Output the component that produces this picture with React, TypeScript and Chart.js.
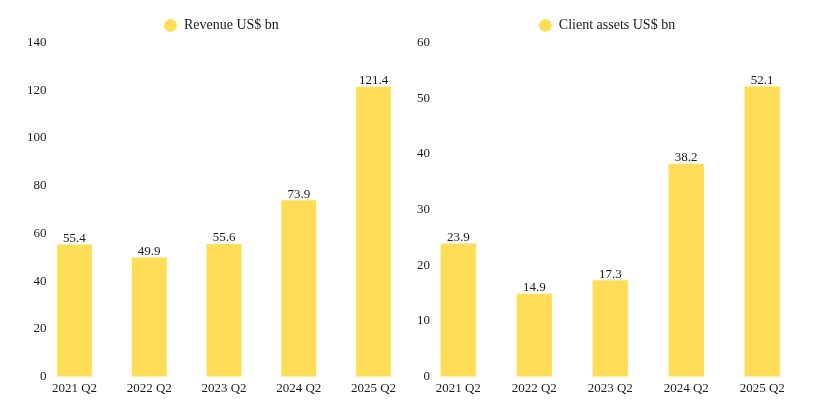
import React, { useEffect, useRef } from "react";
import { Chart, registerables } from "chart.js";

Chart.register(...registerables);

const categories = ["2021 Q2", "2022 Q2", "2023 Q2", "2024 Q2", "2025 Q2"];
const revenue = [55.4, 49.9, 55.6, 73.9, 121.4];
const clientAssets = [23.9, 14.9, 17.3, 38.2, 52.1];
const revenueLabel = "Revenue US$ bn";
const clientAssetsLabel = "Client assets US$ bn";
const revenueAxis = { max: 140, step: 20 };
const clientAssetsAxis = { max: 60, step: 10 };

const BAR_COLOR = "#FFDD57";
const TEXT_COLOR = "#1a1a1a";
const FONT_FAMILY = "'Liberation Serif', 'Times New Roman', serif";

const valueLabelPlugin = {
  id: "valueLabels",
  afterDatasetsDraw(chart: any) {
    const ctx = chart.ctx;
    ctx.save();
    ctx.font = `13px ${FONT_FAMILY}`;
    ctx.fillStyle = TEXT_COLOR;
    ctx.textAlign = "center";
    ctx.textBaseline = "alphabetic";
    chart.data.datasets.forEach((ds: any, di: number) => {
      const meta = chart.getDatasetMeta(di);
      meta.data.forEach((el: any, i: number) => {
        ctx.fillText(Number(ds.data[i]).toFixed(1), el.x, el.y - 2.5);
      });
    });
    ctx.restore();
  },
};

type PanelProps = {
  label: string;
  values: number[];
  axis: { max: number; step: number };
  left: number;
  width: number;
  padL: number;
  padR: number;
  yWidth: number;
  labelRight: number;
  barPct: number;
};

function Panel(p: PanelProps) {
  const ref = useRef<HTMLCanvasElement | null>(null);
  useEffect(() => {
    if (!ref.current) return;
    const chart = new Chart(ref.current, {
      type: "bar",
      data: {
        labels: categories,
        datasets: [
          {
            label: p.label,
            data: p.values,
            backgroundColor: BAR_COLOR,
            borderWidth: 0,
            categoryPercentage: 1,
            barPercentage: p.barPct,
          },
        ],
      },
      plugins: [valueLabelPlugin],
      options: {
        animation: false,
        responsive: true,
        maintainAspectRatio: false,
        layout: { padding: { left: p.padL, right: p.padR, top: 1, bottom: 0 } },
        plugins: {
          tooltip: { enabled: false },
          legend: {
            display: true,
            position: "top",
            labels: {
              usePointStyle: true,
              pointStyle: "circle",
              boxWidth: 13,
              boxHeight: 9,
              padding: 10,
              color: TEXT_COLOR,
              font: { family: FONT_FAMILY, size: 14 },
            },
          },
        },
        scales: {
          x: {
            grid: { display: false, drawTicks: false },
            border: { display: false },
            ticks: {
              color: TEXT_COLOR,
              font: { family: FONT_FAMILY, size: 13 },
              padding: 4,
              maxRotation: 0,
            },
            afterFit: (s: any) => {
              s.height = 414 - 376.7;
            },
          },
          y: {
            min: 0,
            max: p.axis.max,
            grid: { display: false, drawTicks: false },
            border: { display: false },
            ticks: {
              stepSize: p.axis.step,
              color: TEXT_COLOR,
              font: { family: FONT_FAMILY, size: 13 },
              mirror: true,
              crossAlign: "far",
              padding: 0,
            },
            afterFit: (s: any) => {
              s.width = p.yWidth;
              s.paddingTop = 42.4;
            },
            afterUpdate: (s: any) => {
              const widest = s._getLabelSizes ? s._getLabelSizes().widest.width : 0;
              s.options.ticks.padding = p.labelRight - s.right - widest;
            },
          },
        },
      },
    });
    chart.update();
    return () => chart.destroy();
  }, []);
  return (
    <div
      style={{
        position: "absolute",
        left: p.left,
        top: 0,
        width: p.width,
        height: 414,
      }}
    >
      <canvas ref={ref} />
    </div>
  );
}

export default function App() {
  return (
    <div
      style={{
        position: "absolute",
        left: 0,
        top: 0,
        width: 819,
        height: 414,
        background: "#ffffff",
      }}
    >
      <Panel
        label={revenueLabel}
        values={revenue}
        axis={revenueAxis}
        left={0}
        width={420}
        padL={31.9}
        padR={9.1}
        yWidth={5.2}
        labelRight={46.5}
        barPct={0.468}
      />
      <Panel
        label={clientAssetsLabel}
        values={clientAssets}
        axis={clientAssetsAxis}
        left={410}
        width={409}
        padL={3.8}
        padR={18.8}
        yWidth={6.5}
        labelRight={20}
        barPct={0.465}
      />
    </div>
  );
}
